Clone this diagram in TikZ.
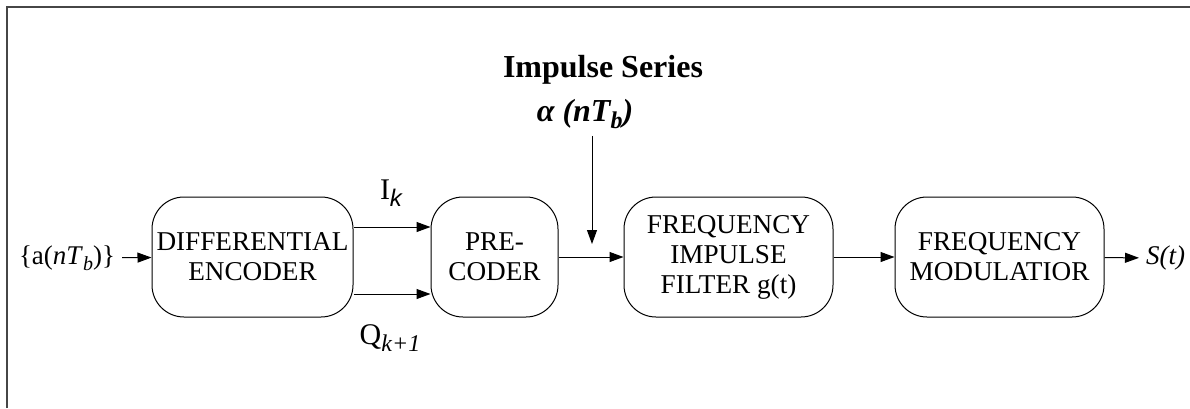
\documentclass[tikz,border=0pt]{standalone}
\usepackage{fontspec}
\setmainfont{Liberation Serif}
\newfontfamily\arialfam{Liberation Sans}
\usepackage{tikz}
\usetikzlibrary{positioning, arrows.meta, calc}
\definecolor{frameln}{RGB}{70,70,70}
\newcommand{\lowsub}[1]{\raisebox{-0.5ex}{\fontsize{10}{10}\selectfont #1}}

\begin{document}
\begin{tikzpicture}[x=0.5pt, y=-0.5pt,
  blk/.style={draw, rounded corners=16pt, minimum height=60pt, align=center, inner xsep=1pt, line width=0.5pt, font=\fontsize{13.6}{15}\selectfont},
  txt/.style={font=\fontsize{13.5}{15}\selectfont},
  lbl/.style={font=\fontsize{15}{17}\selectfont, inner sep=0pt},
  sig/.style={line width=0.5pt, -{Triangle[length=7pt, width=5pt]}}]
\useasboundingbox (0,0) rectangle (1190,408);
\draw[frameln, line width=1.1pt] (7,408) -- (7,7) -- (1190,7);
\node[blk, minimum width=100.5pt] (enc) at (252.5,257) {DIFFERENTIAL\\ENCODER};
\node[blk, minimum width=63.5pt] (pre) at (494.5,257) {PRE-\\CODER};
\node[blk, minimum width=104.5pt] (filt) at (728.5,257) {FREQUENCY\\IMPULSE\\FILTER g(t)};
\node[blk, minimum width=104.5pt] (mod) at (999.5,257) {FREQUENCY\\MODULATIOR};
\node[txt] (in) at (67,258) {\{a(\textit{nT}\lowsub{\textit{b}})\}};
\node[txt, anchor=west] (out) at (1139,258) {\textit{S(t)}};
\node[lbl] (ik) at (391,193) {I\lowsub{\fontsize{12}{12}\selectfont\arialfam\itshape k}};
\node[lbl] (qk) at (390,338) {Q\lowsub{\fontsize{12}{12}\selectfont\itshape k+1}};
\node[font=\fontsize{16}{18}\selectfont\bfseries] (ser) at (603,70) {Impulse Series};
\node[font=\fontsize{16}{18}\selectfont\bfseries\itshape] (alp) at (585,114) {α (nT\lowsub{\fontsize{12}{12}\selectfont b})};
\coordinate (drop) at (592,244);
\draw[sig] (in) -- (enc);
\draw[sig] ([yshift=15pt]enc.east) -- ([yshift=15pt]pre.west);
\draw[sig] ([yshift=-18.5pt]enc.east) -- ([yshift=-18.5pt]pre.west);
\draw[sig] (pre) -- (filt);
\draw[sig] (filt) -- (mod);
\draw[sig] (mod) -- (out);
\draw[sig] (alp.south -| drop) -- (drop);
\end{tikzpicture}
\end{document}
